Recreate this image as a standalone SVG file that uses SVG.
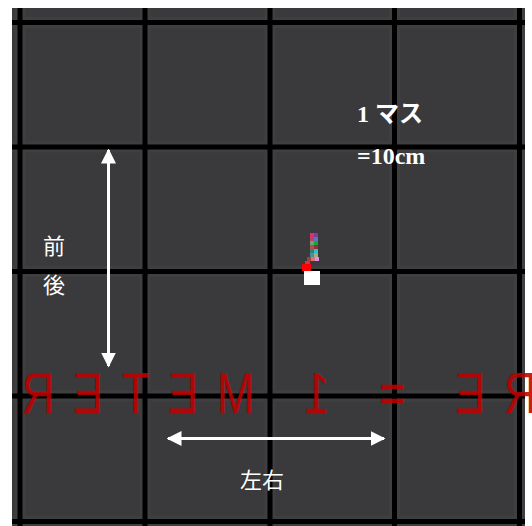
<svg xmlns="http://www.w3.org/2000/svg" width="532" height="526" viewBox="0 0 532 526">
<defs>
<style>
.grid{stroke:#000;stroke-width:5}
.halo{stroke:#3f3e40;stroke-width:11}
.lbl{fill:#fff;font-family:"Noto Sans CJK JP","Noto Sans",sans-serif;font-size:22px}
.ser{fill:#fff;font-family:"Liberation Serif","Noto Sans CJK JP",serif;font-size:24px;font-weight:bold}
.arr{stroke:#fff;stroke-width:3;fill:none}
</style>
<marker id="ah" viewBox="0 0 10 10" refX="9" refY="5" markerWidth="5" markerHeight="5" orient="auto-start-reverse" markerUnits="strokeWidth">
<path d="M0,0 L10,5 L0,10 z" fill="#fff"/>
</marker>
</defs>
<rect width="532" height="526" fill="#fff"/>
<rect x="12" y="8" width="513" height="518" fill="#3a393b"/>
<g id="grid">
<g class="halo">
<line x1="20" y1="8" x2="20" y2="526"/><line x1="145" y1="8" x2="145" y2="526"/><line x1="270" y1="8" x2="270" y2="526"/><line x1="394.5" y1="8" x2="394.5" y2="526"/><line x1="519.5" y1="8" x2="519.5" y2="526"/>
<line x1="12" y1="22.5" x2="525" y2="22.5"/><line x1="12" y1="147" x2="525" y2="147"/><line x1="12" y1="271.5" x2="525" y2="271.5"/><line x1="12" y1="396" x2="525" y2="396"/><line x1="12" y1="521.5" x2="525" y2="521.5"/>
</g>
<g class="grid">
<line x1="20" y1="8" x2="20" y2="526"/><line x1="145" y1="8" x2="145" y2="526"/><line x1="270" y1="8" x2="270" y2="526"/><line x1="394.5" y1="8" x2="394.5" y2="526"/><line x1="519.5" y1="8" x2="519.5" y2="526"/>
<line x1="12" y1="22.5" x2="525" y2="22.5"/><line x1="12" y1="147" x2="525" y2="147"/><line x1="12" y1="271.5" x2="525" y2="271.5"/><line x1="12" y1="396" x2="525" y2="396"/><line x1="12" y1="521.5" x2="525" y2="521.5"/>
</g>
</g>
<g id="mirror-text" transform="translate(557,0) scale(-1,1)" opacity="0.88">
<text transform="scale(0.78,1)" x="26" y="413" textLength="660" lengthAdjust="spacing" fill="#c00000" font-family="'Liberation Sans',sans-serif" font-size="58">RE = 1 METER</text>
</g>
<g id="robot">
<rect x="310" y="233" width="4" height="4" fill="#e0306a"/>
<rect x="314" y="233" width="4" height="4" fill="#7b3fa0"/>
<rect x="310" y="237" width="4" height="4" fill="#c04060"/>
<rect x="314" y="237" width="4" height="4" fill="#5a7ab0"/>
<rect x="310" y="241" width="4" height="4" fill="#6fa070"/>
<rect x="314" y="241" width="4" height="4" fill="#20a040"/>
<rect x="310" y="245" width="4" height="4" fill="#b05050"/>
<rect x="314" y="245" width="4" height="4" fill="#903030"/>
<rect x="310" y="249" width="4" height="4" fill="#308080"/>
<rect x="314" y="249" width="4" height="4" fill="#30c0d0"/>
<rect x="310" y="253" width="4" height="4" fill="#509090"/>
<rect x="314" y="253" width="4" height="4" fill="#a0b080"/>
<rect x="307" y="257" width="4" height="4" fill="#a04040"/>
<rect x="311" y="257" width="4" height="4" fill="#e07080"/>
<rect x="315" y="257" width="4" height="4" fill="#e090e0"/>
<rect x="305" y="261" width="5" height="4" fill="#e03040"/>
<rect x="302" y="264" width="9" height="7" fill="#ff0000"/>
<rect x="304" y="271" width="16" height="14" fill="#fff"/>
</g>
<g id="connectors">
<line class="arr" x1="108.5" y1="150" x2="108.5" y2="366" marker-start="url(#ah)" marker-end="url(#ah)"/>
<line class="arr" x1="168" y1="438.5" x2="384" y2="438.5" marker-start="url(#ah)" marker-end="url(#ah)"/>
</g>
<g id="label-scale">
<text class="ser" x="357" y="122">1 マス</text>
<text class="ser" x="357" y="164">=10cm</text>
</g>
<g id="label-fb">
<text class="lbl" x="43" y="254">前</text>
<text class="lbl" x="43" y="293">後</text>
</g>
<g id="label-lr">
<text class="lbl" x="240" y="488">左右</text>
</g>
</svg>
